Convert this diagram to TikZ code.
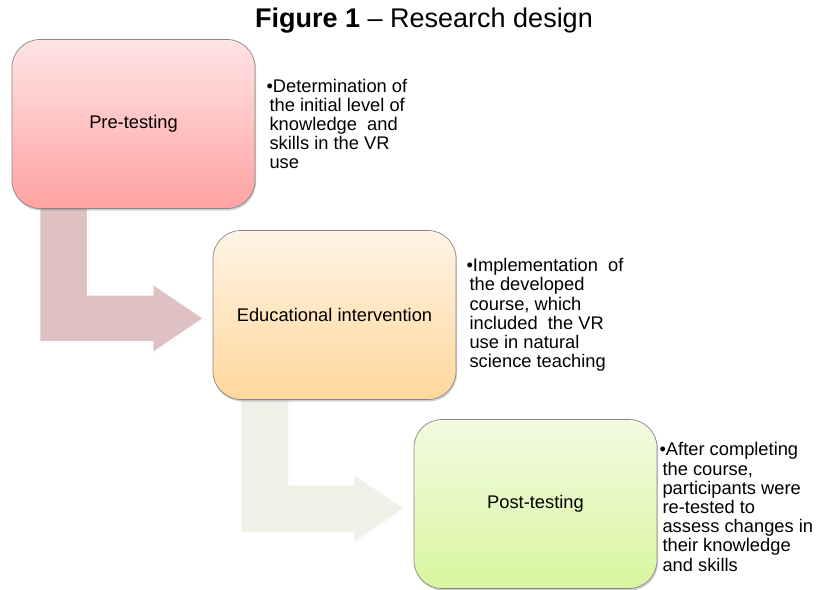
\documentclass[tikz,border=0pt]{standalone}
\usepackage{fontspec}
\setmainfont{Liberation Sans}
\usetikzlibrary{shadows,calc}
\pgfdeclarelayer{background}
\pgfsetlayers{background,main}
\definecolor{pinkA}{HTML}{FFE4E4}
\definecolor{pinkB}{HTML}{FFA2A2}
\definecolor{orA}{HTML}{FFF4E6}
\definecolor{orB}{HTML}{FFD79C}
\definecolor{grA}{HTML}{F3FAE2}
\definecolor{grB}{HTML}{D8F69E}
\definecolor{arrowA}{HTML}{E0C1C3}
\definecolor{arrowB}{HTML}{EFF1E8}
\definecolor{boxline}{HTML}{8C8484}
\tikzset{
  stagebox/.style={rounded corners=28pt, minimum width=243pt, minimum height=169pt,
    draw=boxline, line width=0.7pt, inner sep=0pt,
    drop shadow={shadow xshift=1pt, shadow yshift=-2pt, opacity=0.3, fill=black!60},
    font=\fontsize{18.3}{22}\selectfont},
  desc/.style={anchor=west, align=left, inner sep=0pt, font=\fontsize{18.3}{19.2}\selectfont},
  bentarrow/.style={draw=white, line width=1.4pt, line join=miter,
    drop shadow={shadow xshift=0.6pt, shadow yshift=-0.6pt, opacity=0.18, fill=black!60}}
}
\begin{document}
\begin{tikzpicture}[x=1pt,y=-1pt]
\useasboundingbox (0,0) rectangle (827,589);
\node[font=\fontsize{27}{30}\selectfont] (title) at (424,21) {\textbf{Figure 1} – Research design};

\node[stagebox, top color=pinkA, bottom color=pinkB] (p1) at (133.5,124) {Pre-testing};
\node[stagebox, top color=orA, bottom color=orB] (p2) at (334.5,315) {Educational intervention};
\node[stagebox, top color=grA, bottom color=grB] (p3) at (535.5,504) {Post-testing};

\node[desc] (d1) at ($(p1.east)+(11,0)$) {•Determination of\\\hspace{3pt}the initial level of\\\hspace{3pt}knowledge \ and\\\hspace{3pt}skills in the VR\\\hspace{3pt}use};
\node[desc] (d2) at ($(p2.east)+(10,0)$) {•Implementation \ of\\\hspace{3pt}the developed\\\hspace{3pt}course, which\\\hspace{3pt}included \ the VR\\\hspace{3pt}use in natural\\\hspace{3pt}science teaching};
\node[desc] (d3) at ($(p3.east)+(2,3)$) {•After completing\\\hspace{3pt}the course,\\\hspace{3pt}participants were\\\hspace{3pt}re-tested to\\\hspace{3pt}assess changes in\\\hspace{3pt}their knowledge\\\hspace{3pt}and skills};

\begin{pgfonlayer}{background}
\begin{scope}[shift={(p1.south west)}]
  \draw[bentarrow, fill=arrowA] (28,-18) -- (76,-18) -- (76,86) -- (141,86) -- (141,75) -- (192,109.5) -- (141,144) -- (141,133) -- (28,133) -- cycle;
\end{scope}
\begin{scope}[shift={(p2.south west)}]
  \draw[bentarrow, fill=arrowB] (28,-18) -- (76,-18) -- (76,85) -- (141,85) -- (141,74) -- (192,108.5) -- (141,143) -- (141,133) -- (28,133) -- cycle;
\end{scope}
\end{pgfonlayer}
\end{tikzpicture}
\end{document}
